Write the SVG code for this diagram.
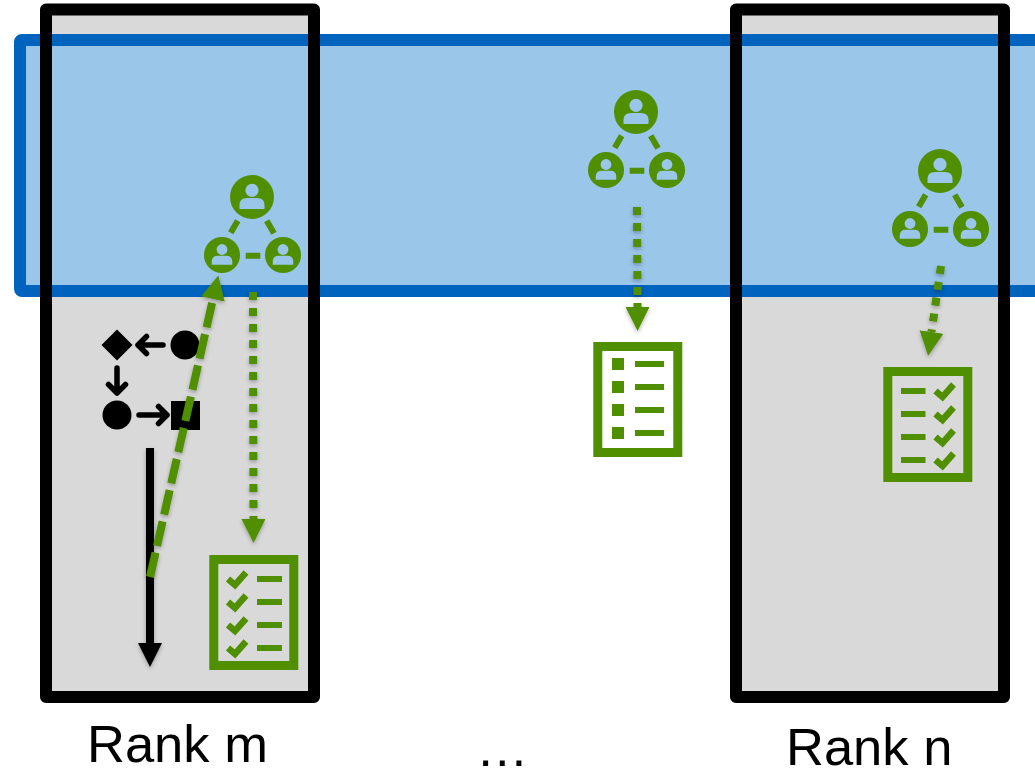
<svg xmlns="http://www.w3.org/2000/svg" width="1035" height="768" viewBox="0 0 1035 768">
<style>
.rank{fill:#d9d9d9;stroke:none}
.frame{fill:none;stroke:#000;stroke-width:12;stroke-linejoin:round}
.g{fill:#4f8f00}
.bar{fill:#4f8f00}
.list{fill:none;stroke:#4f8f00;stroke-width:9}
.chk{fill:none;stroke:#4f8f00;stroke-width:6.5}
.lnk{stroke:#4f8f00;stroke-width:6;fill:none}
.dot{stroke:#4f8f00;stroke-width:8;stroke-dasharray:8 8;fill:none;marker-end:url(#gh)}
.dash{stroke:#4f8f00;stroke-width:8;stroke-dasharray:25 7;fill:none;marker-end:url(#gh)}
.small{stroke:#000;stroke-width:5.500;fill:none;stroke-linecap:round;stroke-linejoin:round}
text{font-family:"Liberation Sans",Arial,sans-serif;font-size:52.5px;fill:#000}
</style>
<defs>
<marker id="gh" markerUnits="userSpaceOnUse" markerWidth="26" markerHeight="26" refX="0" refY="12" orient="auto"><path d="M0 0L24 12L0 24Z" fill="#4f8f00"/></marker>
<marker id="kh" markerUnits="userSpaceOnUse" markerWidth="26" markerHeight="26" refX="0" refY="12" orient="auto"><path d="M0 0L24 12L0 24Z" fill="#000"/></marker>
<filter id="sh" filterUnits="userSpaceOnUse" x="0" y="0" width="1035" height="768"><feDropShadow dx="0" dy="2" stdDeviation="2" flood-color="#000" flood-opacity=".3"/></filter>
<g id="person"><circle r="22" class="g"/><circle cy="-6.700" r="6.600" fill="#9ac6ea"/><path d="M-12.500 12V8Q-12.500 1-5 1H5Q12.500 1 12.500 8V12Z" fill="#9ac6ea"/></g>
<g id="net">
<use href="#person"/>
<use href="#person" transform="translate(-30 58) scale(.82)"/>
<use href="#person" transform="translate(31 58) scale(.82)"/>
<path class="lnk" d="M-14.300 23.700L-21.300 35.700M14.700 23.700L22 36.300M-6.300 58.700H8.300"/>
</g>
<path id="check" class="chk" d="M-9 0L-2 6L9-6.500"/>
</defs>

<rect class="rank" x="46" y="9.500" width="268" height="687.500"/>
<rect class="rank" x="736" y="9.500" width="268" height="687.500"/>
<rect x="20" y="40" width="1030" height="251" rx="2" fill="#9ac6ea" stroke="#0063be" stroke-width="12" stroke-linejoin="round"/>

<g id="rank-m"><rect class="frame" x="46" y="9.500" width="268" height="687.500"/><text x="87" y="762">Rank m</text></g>
<g id="rank-n"><rect class="frame" x="736" y="9.500" width="268" height="687.500"/><text x="786" y="765">Rank n</text></g>
<g id="ellipsis"><text x="476" y="766">…</text></g>

<g id="net-m"><use href="#net" x="252" y="197"/></g>
<g id="net-mid"><use href="#net" x="636" y="112"/></g>
<g id="net-n"><use href="#net" x="940" y="171"/></g>

<g id="task-graph">
<path d="M117 329.500L132.500 345L117 360.500L101.500 345Z"/>
<circle cx="185" cy="345" r="14.500"/>
<circle cx="117" cy="415" r="14.500"/>
<rect x="171" y="401" width="29" height="29"/>
<path class="small" d="M163 345H138M146.500 336.500L138 345L146.500 353.500"/>
<path class="small" d="M117 368V393M108.500 384.500L117 393L125.500 384.500"/>
<path class="small" d="M139 415H167M158.500 406.500L167 415L158.500 423.500"/>
</g>

<g id="list-m">
<rect class="list" x="213.800" y="559.500" width="80" height="106"/>
<path class="bar" d="M257 576h25v6h-25zM257 599h25v6h-25zM257 622h25v6h-25zM257 645h25v6h-25z"/>
<use href="#check" x="237" y="579"/><use href="#check" x="237" y="602"/><use href="#check" x="237" y="625"/><use href="#check" x="237" y="648"/>
</g>
<g id="list-mid">
<rect class="list" x="597.800" y="346.500" width="80" height="106"/>
<path class="bar" d="M612 358h12v12h-12zM612 381h12v12h-12zM612 404h12v12h-12zM612 427h12v12h-12zM635 361h29v6h-29zM635 384h29v6h-29zM635 407h29v6h-29zM635 430h29v6h-29z"/>
</g>
<g id="list-n">
<rect class="list" x="887.800" y="371.500" width="80" height="106"/>
<path class="bar" d="M901 388h24.500v6h-24.500zM901 411h24.500v6h-24.500zM901 434h24.500v6h-24.500zM901 457h24.500v6h-24.500z"/>
<use href="#check" x="944.500" y="391"/><use href="#check" x="944.500" y="414"/><use href="#check" x="944.500" y="437"/><use href="#check" x="944.500" y="460"/>
</g>

<g id="connectors">
<line filter="url(#sh)" x1="150" y1="448" x2="150" y2="643" stroke="#000" stroke-width="8" marker-end="url(#kh)"/>
<line filter="url(#sh)" class="dash" x1="150" y1="577" x2="213" y2="299"/>
<line filter="url(#sh)" class="dot" x1="253" y1="292" x2="253.500" y2="519"/>
<line filter="url(#sh)" class="dot" x1="637" y1="207" x2="637.500" y2="307"/>
<line filter="url(#sh)" class="dot" x1="941" y1="266" x2="931.500" y2="332"/>
</g>
</svg>
